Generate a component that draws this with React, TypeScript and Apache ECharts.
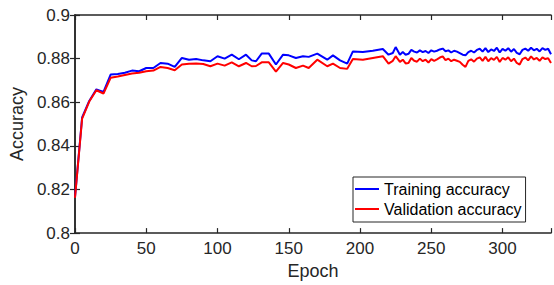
import React, { useEffect, useRef } from "react";
import * as echarts from "echarts";

const epochs = [
  0, 5, 10, 15, 20, 25, 30, 35, 40, 45, 50, 55, 60, 65, 70, 75, 80, 85, 90, 95,
  100, 105, 110, 115, 120, 124, 127, 131, 136, 141, 146, 150, 155, 160, 164, 170,
  177, 181, 186, 191, 195, 202, 209, 216, 220, 223, 225, 228,
  230, 232, 234, 236, 238, 240, 242, 244, 246, 248, 250, 252, 254, 256, 258, 260,
  262, 264, 266, 268, 270, 272, 274, 276, 278, 280, 282, 284, 286, 288, 290, 292,
  294, 296, 298, 300, 302, 304, 306, 308, 310, 312, 314, 316, 318, 320, 322, 324,
  326, 328, 330, 332, 334,
];

const trainingAccuracy = [
  0.8165, 0.853, 0.8606, 0.8659, 0.8647, 0.8727, 0.873, 0.8735, 0.8745, 0.8742,
  0.8757, 0.8757, 0.878, 0.8777, 0.8762, 0.8803, 0.8795, 0.8798, 0.8792, 0.8788,
  0.8811, 0.88, 0.8818, 0.8797, 0.8818, 0.8792, 0.8788, 0.8823, 0.8823, 0.8773,
  0.8818, 0.8815, 0.8803, 0.8811, 0.8808, 0.8823, 0.8795, 0.8815, 0.8792, 0.8777,
  0.8833, 0.883, 0.8836, 0.8844, 0.8818, 0.8826, 0.8853, 0.8818,
  0.883, 0.8818, 0.8822, 0.884, 0.8832, 0.8828, 0.8838, 0.883, 0.8835, 0.8826,
  0.8838, 0.8832, 0.8836, 0.8842, 0.8846, 0.8834, 0.8838, 0.8828, 0.8836, 0.8832,
  0.8825, 0.8818, 0.8815, 0.883, 0.8836, 0.8828, 0.884, 0.8845, 0.8832, 0.8848,
  0.883, 0.8842, 0.8835, 0.885, 0.8828, 0.8845, 0.8836, 0.8848, 0.8832, 0.8844,
  0.8826, 0.882, 0.884, 0.8846, 0.8836, 0.885, 0.8838, 0.8845, 0.8833, 0.8848,
  0.884, 0.8845, 0.882,
];

const validationAccuracy = [
  0.8162, 0.8525, 0.8603, 0.8655, 0.864, 0.8712, 0.8718, 0.8725, 0.8732, 0.8735,
  0.8742, 0.8745, 0.8762, 0.8757, 0.8747, 0.8773, 0.8777, 0.8778, 0.8775, 0.8765,
  0.8777, 0.8768, 0.8783, 0.8765, 0.878, 0.8765, 0.8766, 0.8783, 0.8783, 0.874,
  0.878, 0.8773, 0.8757, 0.8768, 0.8757, 0.8795, 0.8765, 0.8777, 0.8757, 0.8753,
  0.8798, 0.8795, 0.8803, 0.8811, 0.8777, 0.879, 0.8811, 0.8785,
  0.8795, 0.8778, 0.878, 0.8803, 0.879, 0.8786, 0.88, 0.8788, 0.8795, 0.8782,
  0.8798, 0.879, 0.8797, 0.8805, 0.881, 0.8793, 0.88, 0.8788, 0.8795, 0.879,
  0.8785, 0.8772, 0.8762, 0.879, 0.8797, 0.8786, 0.88, 0.8806, 0.879, 0.8808,
  0.8788, 0.8802, 0.8794, 0.8808, 0.8785, 0.8803, 0.8795, 0.8806, 0.8788, 0.88,
  0.878, 0.8773, 0.8798, 0.8805, 0.8792, 0.881, 0.8796, 0.8803, 0.879, 0.8806,
  0.8798, 0.8802, 0.878,
];

const xTicks = [0, 50, 100, 150, 200, 250, 300];
const yTicks = [0.8, 0.82, 0.84, 0.86, 0.88, 0.9];

const FONT = "'Liberation Sans', Arial, Helvetica, sans-serif";
const INK = "#262626";

export default function App() {
  const ref = useRef<HTMLDivElement>(null);
  useEffect(() => {
    document.body.style.margin = "0";
    const chart = echarts.init(ref.current!, null, { renderer: "svg" });
    const xMin = xTicks[0];
    const xMax = 334;
    const yMin = yTicks[0];
    const yMax = yTicks[yTicks.length - 1];
    const axisLine = { show: true, lineStyle: { color: INK, width: 1.5 } };
    const tick = { show: true, inside: true, length: 5, lineStyle: { color: INK, width: 1.2 } };
    const xFmt = (v: number) => (xTicks.includes(Math.round(v)) && Math.abs(v - Math.round(v)) < 1e-6 ? String(Math.round(v)) : "");
    const yFmt = (v: number) => String(+v.toFixed(2));
    chart.setOption({
      animation: false,
      textStyle: { fontFamily: FONT },
      grid: { left: 72, right: 2, top: 15, bottom: 49.5, containLabel: false },
      legend: {
        show: true,
        orient: "vertical",
        left: 353,
        top: 177,
        padding: [2, 4, 3, 2],
        itemGap: 0,
        itemWidth: 24,
        itemHeight: 2,
        icon: "rect",
        backgroundColor: "#ffffff",
        borderColor: INK,
        borderWidth: 1,
        textStyle: { fontSize: 16, color: "#000", fontFamily: FONT, lineHeight: 20 },
        data: ["Training accuracy", "Validation accuracy"],
      },
      xAxis: [
        {
          type: "value",
          min: xMin,
          max: xMax,
          interval: 50,
          position: "bottom",
          axisLine,
          axisTick: tick,
          splitLine: { show: false },
          axisLabel: { color: INK, fontSize: 17, margin: 7, formatter: xFmt, fontFamily: FONT },
          name: "Epoch",
          nameLocation: "middle",
          nameGap: 25,
          nameTextStyle: { color: INK, fontSize: 18, fontFamily: FONT, verticalAlign: "top" },
        },
        {
          type: "value",
          min: xMin,
          max: xMax,
          interval: 50,
          position: "top",
          axisLine,
          axisTick: tick,
          splitLine: { show: false },
          axisLabel: { show: false },
        },
      ],
      yAxis: [
        {
          type: "value",
          min: yMin,
          max: yMax,
          interval: 0.02,
          position: "left",
          axisLine,
          axisTick: tick,
          splitLine: { show: false },
          axisLabel: { color: INK, fontSize: 17, margin: 5, formatter: yFmt, fontFamily: FONT },
          name: "Accuracy",
          nameLocation: "middle",
          nameGap: 41,
          nameTextStyle: { color: INK, fontSize: 18, fontFamily: FONT },
        },
        {
          type: "value",
          min: yMin,
          max: yMax,
          interval: 0.02,
          position: "right",
          axisLine,
          axisTick: tick,
          splitLine: { show: false },
          axisLabel: { show: false },
        },
      ],
      series: [
        {
          name: "Training accuracy",
          type: "line",
          xAxisIndex: 0,
          yAxisIndex: 0,
          symbol: "none",
          lineStyle: { color: "#0000ff", width: 2 },
          itemStyle: { color: "#0000ff" },
          data: epochs.map((e, i) => [e, trainingAccuracy[i]]),
        },
        {
          name: "Validation accuracy",
          type: "line",
          xAxisIndex: 0,
          yAxisIndex: 0,
          symbol: "none",
          lineStyle: { color: "#ff0000", width: 2 },
          itemStyle: { color: "#ff0000" },
          data: epochs.map((e, i) => [e, validationAccuracy[i]]),
        },
      ],
    });
    return () => chart.dispose();
  }, []);
  return <div ref={ref} style={{ width: 554, height: 285 }} />;
}
